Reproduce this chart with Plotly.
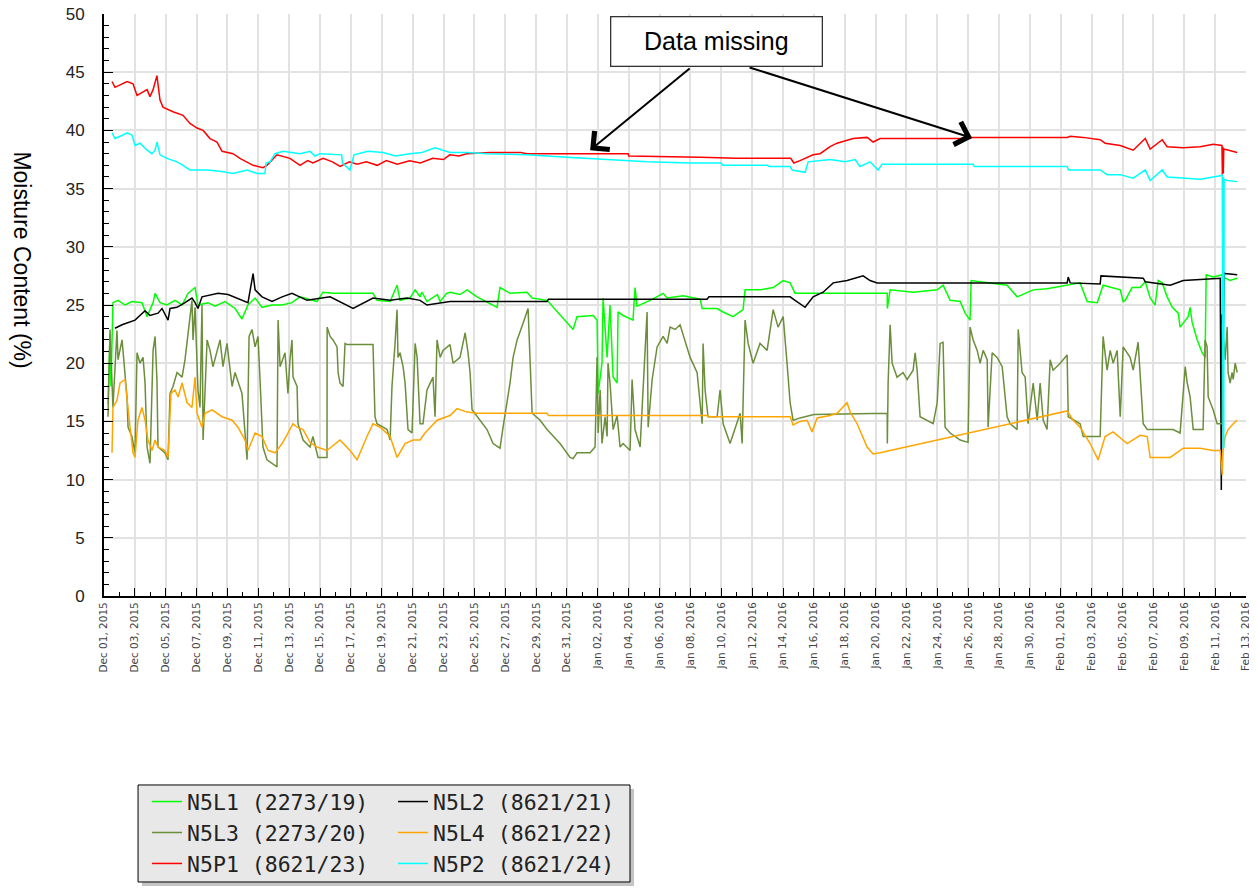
"""Soil moisture readings at the N5 probes, Dec 2015 - Feb 2016."""

import pandas as pd
import plotly.graph_objects as go


START = pd.Timestamp("2015-12-01")
END = pd.Timestamp("2016-02-13")

# readings as (days after START, moisture content %)
n5l1 = [
    (0.26, 16.5), (0.39, 22.5), (0.45, 18.0), (0.58, 25.2), (0.91, 25.4), (1.36, 25.0),
    (1.81, 25.3), (2.46, 25.2), (2.79, 24.0), (3.18, 25.2), (3.31, 26.0), (3.63, 25.2),
    (4.08, 25.0), (4.60, 25.4), (5.06, 25.0), (5.44, 26.0), (5.90, 26.5), (6.09, 25.0),
    (6.74, 25.2), (7.19, 24.9), (7.84, 25.3), (8.49, 24.7), (8.94, 23.8), (9.33, 25.0),
    (9.79, 25.6), (10.24, 24.8), (10.89, 25.0), (11.54, 25.0), (12.18, 25.2), (12.70, 25.7),
    (13.80, 25.3), (14.19, 26.1), (14.84, 26.0), (17.43, 26.0), (17.69, 25.4), (18.54, 25.3),
    (18.99, 26.7), (19.18, 25.4), (19.83, 25.6), (20.16, 26.3), (20.48, 25.7), (20.60, 26.1),
    (20.93, 25.3), (21.60, 25.9), (21.78, 25.3), (22.20, 26.0), (22.42, 26.1), (23.07, 25.9),
    (23.53, 26.3), (24.17, 25.7), (25.47, 24.8), (25.66, 26.5), (26.31, 26.0), (27.41, 26.1),
    (27.74, 25.6), (28.71, 25.4), (30.40, 22.9), (30.65, 24.0), (31.69, 24.1), (31.95, 23.7),
    (32.02, 17.4), (32.27, 20.0), (32.34, 25.6), (32.60, 20.5), (32.79, 25.0), (32.99, 18.8),
    (33.25, 18.3), (33.31, 24.4), (33.64, 24.1), (34.28, 23.7), (34.41, 26.5), (34.54, 24.9),
    (35.39, 25.4), (36.23, 26.0), (36.49, 25.6), (37.52, 25.8), (38.63, 25.5), (38.76, 24.7),
    (39.73, 24.7), (40.12, 24.4), (40.76, 24.0), (41.41, 24.6), (41.54, 26.3), (42.51, 26.3),
    (43.36, 26.5), (44.01, 27.1), (44.46, 26.9), (44.78, 26.0), (50.75, 26.0), (50.76, 24.7),
    (50.94, 26.3), (52.43, 26.1), (53.99, 26.3), (54.37, 26.7), (54.83, 25.4), (55.48, 25.3),
    (55.80, 24.3), (56.12, 23.7), (56.19, 27.1), (57.23, 26.9), (58.52, 26.7), (59.17, 25.7),
    (60.21, 26.3), (61.11, 26.4), (62.41, 26.7), (63.25, 26.9), (63.71, 25.3), (64.36, 25.2),
    (64.74, 26.7), (65.85, 26.3), (66.04, 25.3), (66.17, 25.4), (66.62, 26.5), (67.14, 26.5),
    (67.47, 27.0), (67.79, 25.6), (68.11, 25.0), (68.31, 27.1), (68.57, 26.9), (68.89, 25.7),
    (69.22, 24.8), (69.61, 24.3), (69.73, 23.1), (70.25, 24.0), (70.38, 24.8), (70.51, 23.5),
    (70.84, 22.0), (71.16, 20.9), (71.35, 20.5), (71.42, 27.6), (71.87, 27.4), (72.46, 27.6),
    (72.50, 15.0), (72.55, 27.4), (72.97, 27.1), (73.43, 27.3),
]

n5l2 = [
    (0.71, 23.0), (1.17, 23.3), (2.01, 23.7), (2.66, 24.5), (2.98, 24.1), (3.50, 24.3),
    (3.76, 24.7), (4.15, 23.7), (4.28, 24.7), (4.73, 24.8), (5.25, 25.2), (5.70, 25.6),
    (5.90, 25.2), (6.09, 24.7), (6.35, 25.7), (7.39, 26.0), (8.04, 25.9), (8.94, 25.4),
    (9.33, 25.2), (9.66, 27.7), (9.79, 26.3), (10.24, 25.7), (10.89, 25.3), (11.54, 25.7),
    (12.18, 26.0), (13.16, 25.4), (14.65, 25.7), (16.14, 24.7), (17.43, 25.6), (18.54, 25.4),
    (19.64, 25.6), (20.48, 25.4), (20.93, 25.0), (22.42, 25.3), (23.53, 25.3), (28.71, 25.3),
    (28.80, 25.5), (39.08, 25.5), (39.20, 25.7), (44.46, 25.7), (44.78, 25.4), (45.43, 24.8),
    (45.95, 25.7), (46.60, 26.1), (47.25, 26.9), (48.15, 27.1), (49.19, 27.5), (49.64, 27.1),
    (50.10, 26.9), (62.41, 26.9), (62.48, 27.4), (62.61, 26.9), (64.55, 26.8), (64.60, 27.5),
    (67.34, 27.3), (67.47, 27.0), (69.09, 26.7), (69.93, 27.1), (71.03, 27.2), (72.33, 27.3),
    (72.40, 9.1), (72.46, 24.2), (72.52, 22.0), (72.58, 27.8), (72.65, 27.7), (73.43, 27.6),
]

n5l3 = [
    (0.26, 15.4), (0.39, 22.9), (0.58, 16.2), (0.84, 22.8), (0.91, 20.3), (1.17, 22.0),
    (1.49, 17.1), (1.56, 14.5), (1.81, 13.7), (2.01, 12.3), (2.14, 20.9), (2.33, 20.0),
    (2.53, 20.5), (2.66, 18.3), (2.79, 12.8), (2.98, 11.4), (3.18, 21.1), (3.31, 22.3),
    (3.43, 18.6), (3.50, 12.8), (3.95, 12.3), (4.15, 11.7), (4.28, 17.4), (4.47, 18.0),
    (4.73, 19.2), (5.06, 18.8), (5.25, 20.3), (5.57, 23.7), (5.70, 25.4), (5.77, 22.0),
    (5.90, 24.8), (6.09, 17.7), (6.22, 16.2), (6.35, 25.0), (6.42, 13.4), (6.68, 22.0),
    (6.87, 21.1), (7.06, 19.7), (7.32, 21.1), (7.52, 22.0), (7.71, 19.7), (7.97, 21.7),
    (8.30, 18.0), (8.49, 19.2), (8.94, 17.4), (9.14, 13.4), (9.27, 11.7), (9.40, 22.3),
    (9.59, 22.9), (9.79, 21.4), (9.98, 22.3), (10.11, 18.6), (10.30, 12.8), (10.56, 11.7),
    (10.89, 11.4), (11.21, 11.1), (11.28, 23.7), (11.41, 19.7), (11.73, 20.9), (11.92, 17.4),
    (12.05, 20.3), (12.18, 22.0), (12.25, 18.8), (12.51, 18.0), (12.57, 14.8), (12.90, 13.4),
    (13.35, 12.8), (13.54, 13.7), (13.87, 11.9), (14.45, 11.9), (14.46, 23.1), (14.65, 22.3),
    (14.84, 22.0), (15.10, 21.4), (15.17, 19.2), (15.29, 18.3), (15.49, 18.0), (15.62, 21.7),
    (15.75, 21.6), (17.43, 21.6), (17.56, 15.4), (17.69, 14.8), (18.08, 14.5), (18.34, 14.3),
    (18.54, 13.4), (18.66, 18.0), (18.86, 21.7), (18.99, 24.6), (19.05, 20.5), (19.18, 20.9),
    (19.38, 19.7), (19.51, 18.3), (19.70, 14.3), (19.96, 14.0), (20.16, 21.7), (20.29, 20.5),
    (20.48, 14.8), (20.67, 14.8), (20.93, 17.7), (21.32, 18.8), (21.45, 15.4), (21.58, 22.0),
    (21.78, 20.5), (21.97, 21.1), (22.42, 21.6), (22.62, 20.0), (23.07, 20.5), (23.40, 22.6),
    (23.59, 20.9), (23.72, 19.2), (23.85, 16.0), (24.82, 14.3), (25.21, 13.1), (25.66, 12.7),
    (25.86, 14.5), (26.31, 18.3), (26.51, 20.5), (26.77, 22.0), (27.15, 23.4), (27.41, 24.6),
    (27.48, 24.7), (27.74, 15.7), (28.26, 15.1), (28.71, 14.3), (29.55, 13.1), (30.20, 11.9),
    (30.40, 11.8), (30.65, 12.3), (31.50, 12.3), (31.82, 12.8), (31.95, 20.5), (32.02, 14.0),
    (32.15, 17.7), (32.27, 13.1), (32.47, 15.4), (32.60, 13.7), (32.66, 20.0), (32.79, 18.3),
    (32.99, 14.3), (33.25, 15.5), (33.44, 12.8), (33.64, 13.1), (34.09, 12.5), (34.22, 18.6),
    (34.41, 14.3), (34.74, 12.8), (35.19, 24.4), (35.26, 14.5), (35.52, 18.6), (35.84, 21.4),
    (36.23, 22.3), (36.49, 21.7), (36.68, 23.1), (37.01, 22.9), (37.33, 23.3), (37.98, 20.5),
    (38.43, 19.2), (38.76, 14.8), (38.82, 21.7), (38.95, 17.7), (39.14, 15.4), (39.73, 15.4),
    (39.92, 17.7), (40.12, 14.8), (40.57, 13.1), (41.22, 15.7), (41.35, 13.1), (41.54, 23.7),
    (41.74, 21.7), (42.06, 20.0), (42.51, 21.7), (42.97, 21.1), (43.16, 22.9), (43.36, 24.6),
    (43.68, 23.1), (44.01, 24.0), (44.26, 20.0), (44.46, 16.6), (44.65, 15.1), (45.11, 15.3),
    (46.00, 15.6), (50.75, 15.7), (50.76, 13.1), (50.81, 18.3), (50.94, 23.3), (51.07, 20.0),
    (51.39, 18.8), (51.78, 19.2), (52.04, 18.6), (52.43, 19.4), (52.56, 20.9), (52.69, 19.4),
    (52.88, 15.4), (53.73, 14.8), (53.99, 16.6), (54.18, 21.7), (54.37, 21.8), (54.50, 14.5),
    (54.83, 14.0), (55.48, 13.4), (55.99, 13.2), (56.12, 23.1), (56.32, 22.0), (56.58, 21.1),
    (56.77, 20.0), (56.97, 21.1), (57.23, 20.3), (57.29, 14.5), (57.55, 20.9), (57.87, 20.5),
    (58.20, 19.7), (58.52, 15.4), (58.72, 14.8), (59.17, 14.3), (59.24, 22.9), (59.49, 19.2),
    (59.69, 18.8), (59.88, 14.8), (60.21, 18.3), (60.47, 15.1), (60.66, 18.3), (60.86, 15.1),
    (61.11, 14.3), (61.31, 20.3), (61.50, 19.4), (61.96, 20.0), (62.41, 20.7), (62.48, 15.4),
    (63.25, 14.8), (63.45, 13.7), (64.55, 13.7), (64.68, 18.6), (64.74, 22.3), (65.00, 19.4),
    (65.20, 21.1), (65.39, 20.0), (65.65, 21.1), (65.85, 15.4), (66.04, 21.4), (66.49, 20.5),
    (66.69, 19.4), (67.01, 21.8), (67.34, 14.8), (67.60, 14.3), (69.28, 14.3), (69.73, 14.0),
    (70.06, 19.7), (70.19, 18.3), (70.38, 17.1), (70.58, 14.3), (71.22, 14.3), (71.35, 22.0),
    (71.48, 21.4), (71.55, 17.1), (71.87, 16.0), (72.13, 14.8), (72.46, 14.8), (72.47, 23.4),
    (72.65, 20.3), (72.78, 23.1), (72.84, 19.2), (72.97, 18.3), (73.10, 19.2), (73.17, 18.6),
    (73.30, 20.0), (73.43, 19.2),
]

n5l4 = [
    (0.52, 12.3), (0.58, 16.2), (0.84, 16.8), (1.04, 18.3), (1.36, 18.6), (1.49, 16.8),
    (1.69, 14.5), (1.88, 12.3), (2.01, 11.9), (2.20, 15.1), (2.46, 16.2), (2.66, 15.1),
    (2.85, 13.4), (3.11, 12.5), (3.31, 13.4), (3.50, 12.8), (3.95, 12.5), (4.15, 11.9),
    (4.34, 17.4), (4.60, 17.7), (4.80, 17.1), (5.06, 18.3), (5.38, 16.6), (5.70, 16.2),
    (5.90, 18.8), (6.03, 15.7), (6.35, 14.5), (6.55, 15.7), (7.00, 16.0), (7.65, 15.4),
    (8.30, 15.1), (8.68, 14.5), (9.14, 13.4), (9.33, 12.5), (9.79, 14.0), (10.24, 13.7),
    (10.63, 12.5), (11.08, 12.3), (11.54, 13.1), (11.92, 14.0), (12.25, 14.8), (12.51, 14.5),
    (12.90, 14.3), (13.35, 13.2), (13.80, 12.8), (14.45, 12.5), (15.29, 13.4), (15.94, 12.5),
    (16.40, 11.7), (17.04, 13.7), (17.43, 14.8), (17.89, 14.5), (18.54, 13.7), (18.99, 11.9),
    (19.18, 12.3), (19.51, 13.1), (20.03, 13.4), (20.48, 13.4), (20.80, 14.0), (21.13, 14.5),
    (21.58, 15.1), (22.42, 15.5), (22.88, 16.1), (23.53, 15.8), (24.17, 15.7), (28.71, 15.7),
    (28.80, 15.5), (39.08, 15.5), (39.20, 15.4), (44.46, 15.4), (44.65, 14.7), (45.11, 15.0),
    (45.56, 15.1), (45.88, 14.1), (46.21, 15.3), (47.05, 15.5), (47.50, 15.7), (48.15, 16.6),
    (48.35, 15.8), (48.80, 14.8), (49.45, 12.8), (49.84, 12.2), (50.29, 12.3), (62.41, 15.9),
    (62.80, 15.1), (63.25, 14.5), (63.90, 13.1), (64.42, 11.7), (64.87, 13.7), (65.39, 14.1),
    (66.30, 13.1), (67.14, 13.8), (67.60, 13.7), (67.79, 11.9), (69.09, 11.9), (69.93, 12.7),
    (71.03, 12.7), (71.87, 12.5), (72.33, 12.5), (72.46, 10.4), (72.52, 12.5), (72.65, 13.7),
    (72.84, 14.3), (73.17, 14.8), (73.43, 15.1),
]

n5p1 = [
    (0.52, 44.2), (0.71, 43.7), (1.49, 44.2), (1.88, 44.0), (2.14, 43.0), (2.79, 43.5),
    (2.98, 42.9), (3.18, 43.5), (3.43, 44.7), (3.63, 42.6), (3.82, 42.0), (4.47, 41.6),
    (5.12, 41.3), (5.57, 40.6), (6.03, 40.2), (6.42, 40.0), (6.87, 39.3), (7.32, 39.0),
    (7.65, 38.2), (8.36, 38.0), (8.81, 37.6), (9.66, 37.0), (10.30, 36.8), (10.56, 37.0),
    (11.21, 37.9), (12.05, 37.6), (12.70, 37.0), (13.20, 37.4), (13.54, 37.2), (14.20, 37.6),
    (14.80, 37.3), (15.30, 36.9), (15.90, 37.3), (16.40, 37.1), (17.00, 37.3), (17.70, 37.0),
    (18.30, 37.4), (19.00, 37.1), (19.80, 37.4), (20.50, 37.2), (21.30, 37.6), (22.00, 37.5),
    (22.40, 37.9), (23.00, 37.8), (23.50, 38.0), (25.00, 38.1), (27.00, 38.1), (27.40, 38.0),
    (33.96, 38.0), (34.00, 37.8), (38.63, 37.7), (41.00, 37.6), (44.50, 37.6), (44.70, 37.2),
    (45.10, 37.4), (45.95, 37.9), (46.40, 38.0), (47.05, 38.6), (47.50, 38.9), (48.54, 39.3),
    (49.45, 39.4), (49.84, 39.0), (50.29, 39.3), (56.12, 39.3), (56.20, 39.4), (62.41, 39.4),
    (62.61, 39.5), (63.45, 39.4), (64.55, 39.2), (64.87, 38.9), (65.85, 38.7), (66.69, 38.3),
    (67.47, 39.3), (67.79, 38.4), (68.57, 39.2), (68.89, 38.6), (69.93, 38.5), (71.03, 38.6),
    (71.87, 38.8), (72.44, 38.7), (72.47, 36.2), (72.50, 38.6), (72.53, 36.3), (72.56, 38.4),
    (73.43, 38.1),
]

n5p2 = [
    (0.52, 39.8), (0.71, 39.3), (1.23, 39.6), (1.49, 39.8), (1.81, 39.6), (2.01, 38.7),
    (2.33, 38.9), (2.79, 38.3), (3.11, 38.0), (3.31, 38.3), (3.43, 39.0), (3.63, 37.9),
    (4.08, 37.6), (4.73, 37.3), (5.12, 37.0), (5.57, 36.6), (6.68, 36.6), (7.52, 36.5),
    (8.36, 36.3), (9.27, 36.6), (9.92, 36.3), (10.43, 36.3), (10.50, 37.2), (10.76, 37.3),
    (11.08, 38.0), (11.60, 38.2), (12.70, 38.0), (13.35, 38.2), (13.67, 37.8), (14.00, 38.0),
    (15.40, 37.9), (15.45, 37.2), (15.94, 36.6), (16.20, 37.9), (17.10, 38.2), (18.08, 38.1),
    (18.90, 37.8), (19.83, 38.0), (20.60, 38.1), (21.45, 38.5), (22.42, 38.1), (23.53, 38.1),
    (24.82, 38.0), (27.41, 37.9), (30.01, 37.7), (32.60, 37.5), (35.19, 37.3), (37.98, 37.2),
    (40.00, 37.2), (40.10, 37.0), (43.00, 37.0), (43.10, 36.9), (44.46, 36.9), (44.59, 36.6),
    (45.43, 36.4), (45.63, 37.3), (47.05, 37.5), (48.02, 37.3), (48.67, 37.5), (48.99, 36.9),
    (49.64, 37.3), (50.16, 36.6), (50.42, 37.1), (56.32, 37.1), (56.40, 36.9), (62.41, 36.9),
    (62.50, 36.6), (64.55, 36.6), (64.74, 36.4), (65.00, 36.2), (65.85, 36.2), (66.69, 35.9),
    (67.47, 36.6), (67.79, 35.7), (68.57, 36.6), (68.89, 36.0), (71.03, 35.8), (72.33, 36.1),
    (72.46, 36.2), (72.48, 12.7), (72.50, 36.1), (72.52, 12.7), (72.54, 36.0), (72.56, 12.7),
    (72.58, 35.8), (72.78, 35.7), (73.43, 35.6),
]

SERIES = [
    ("N5L1 (2273/19)", n5l1, "#00ff00", "legend"),
    ("N5L2 (8621/21)", n5l2, "#000000", "legend2"),
    ("N5L3 (2273/20)", n5l3, "#6b8e3a", "legend"),
    ("N5L4 (8621/22)", n5l4, "#ffa500", "legend2"),
    ("N5P1 (8621/23)", n5p1, "#ff0000", "legend"),
    ("N5P2 (8621/24)", n5p2, "#00ffff", "legend2"),
]


def main():
    """Build the chart and write it out."""
    fig = go.Figure()
    for name, readings, color, legend in SERIES:
        days = [d for d, _ in readings]
        vals = [v for _, v in readings]
        times = START + pd.to_timedelta(days, unit="D")
        fig.add_trace(go.Scatter(
            x=times, y=vals, mode="lines", name=name, legend=legend,
            line=dict(color=color, width=1.5),
        ))

    legend_style = dict(
        bgcolor="rgba(0,0,0,0)", borderwidth=0, yanchor="top", xanchor="left",
        font=dict(family="DejaVu Sans Mono", size=21.5, color="#222"),
        tracegroupgap=0,
    )
    # the page body adds an 8px offset, so the figure is 8px smaller than the window
    fig.update_layout(
        width=1249, height=880,
        margin=dict(l=96, r=11, t=6, b=292, autoexpand=False),
        paper_bgcolor="white", plot_bgcolor="white",
        font=dict(family="Liberation Sans", color="#222"),
        legend=dict(x=0.0377, y=-0.318, **legend_style),
        legend2=dict(x=0.2531, y=-0.318, **legend_style),
        xaxis=dict(
            range=[START, END], type="date",
            tick0=START, dtick=2 * 86400000, tickformat="%b %d, %Y", tickangle=-90,
            tickfont=dict(family="DejaVu Sans", size=10.5, color="#444"),
            ticks="inside", ticklen=8, tickcolor="black", ticklabeloverflow="allow",
            minor=dict(dtick=86400000, ticks="inside", ticklen=4, tickcolor="black", showgrid=False),
            showgrid=True, gridcolor="#e2e2e2", gridwidth=2,
            showline=True, linecolor="black", linewidth=2, zeroline=False,
        ),
        yaxis=dict(
            range=[0, 50], dtick=5,
            tickfont=dict(family="Liberation Sans", size=17, color="#222"),
            ticks="inside", ticklen=9, tickcolor="black", ticklabelstandoff=14,
            ticklabeloverflow="allow",
            minor=dict(dtick=1, ticks="inside", ticklen=5, tickcolor="black", showgrid=False),
            showgrid=True, gridcolor="#e2e2e2", gridwidth=2,
            showline=True, linecolor="black", linewidth=2, zeroline=False,
        ),
        showlegend=True,
    )

    # legend frame with a soft shadow
    fig.add_shape(type="rect", xref="paper", yref="paper",
                  x0=0.0333, x1=0.4641, y0=-0.4983, y1=-0.3316,
                  fillcolor="#c4c4c4", line=dict(width=0))
    fig.add_shape(type="rect", xref="paper", yref="paper",
                  x0=0.0298, x1=0.4606, y0=-0.4914, y1=-0.3247,
                  fillcolor="#e8e8e8", line=dict(color="black", width=1))

    fig.add_annotation(
        text="Moisture Content (%)", textangle=90, showarrow=False,
        xref="paper", yref="paper", x=-0.072, y=0.577,
        xanchor="center", yanchor="middle",
        font=dict(family="Liberation Sans", size=23, color="black"),
    )
    for tip_day, tip_val, ax, ay in [(31.50, 38.3, 101, -83), (56.25, 39.35, -224, -71)]:
        fig.add_annotation(
            x=START + pd.Timedelta(days=tip_day), y=tip_val, text="",
            showarrow=True, ax=ax, ay=ay, arrowhead=4, arrowsize=2.3,
            arrowwidth=2, arrowcolor="black", standoff=0,
        )
    fig.add_annotation(
        text="Data missing", showarrow=False,
        xref="paper", yref="paper", x=0.536, y=0.952,
        xanchor="center", yanchor="middle",
        width=204, height=42, borderpad=3, borderwidth=1.3,
        bordercolor="#333", bgcolor="white",
        font=dict(family="Liberation Sans", size=25, color="black"),
    )

    fig.write_html("out.html")


if __name__ == "__main__":
    main()
